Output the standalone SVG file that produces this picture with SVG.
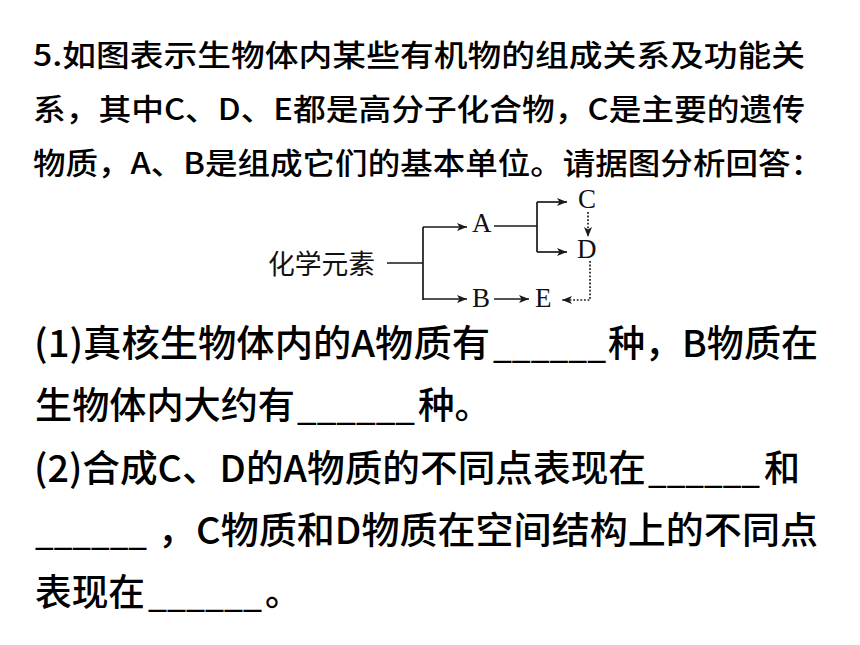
<svg xmlns="http://www.w3.org/2000/svg" width="860" height="645" viewBox="0 0 860 645">
<style>
.q{font-family:"Noto Sans CJK SC","Noto Sans",sans-serif;fill:#000;font-weight:500;}
.t{font-size:30px;}
.b{font-size:37px;}
.u{font-size:33px;}
.lbl{font-family:"Noto Sans CJK SC",sans-serif;font-size:27px;fill:#111;}
.let{font-family:"Liberation Serif","Times New Roman",serif;font-size:27px;fill:#111;}
.ln{fill:none;stroke:#1a1a1a;stroke-width:1.7;}
.dot{fill:none;stroke:#1a1a1a;stroke-width:1.7;stroke-dasharray:1.8 1.8;}
</style>
<defs>
<marker id="ah" viewBox="0 0 10 8" refX="10" refY="4" markerWidth="10" markerHeight="8" markerUnits="userSpaceOnUse" orient="auto">
<path d="M0,0 L10,4 L0,8 L2.5,4 z" fill="#1a1a1a"/>
</marker>
</defs>
<rect width="860" height="645" fill="#fff"/>
<g id="question">
<text class="q t" x="33" y="66" textLength="772" lengthAdjust="spacingAndGlyphs">5.如图表示生物体内某些有机物的组成关系及功能关</text>
<text class="q t" x="33" y="120" textLength="772" lengthAdjust="spacingAndGlyphs">系，其中C、D、E都是高分子化合物，C是主要的遗传</text>
<text class="q t" x="33" y="174" textLength="790" lengthAdjust="spacingAndGlyphs">物质，A、B是组成它们的基本单位。请据图分析回答：</text>
</g>
<g id="nodes">
<g id="n-elements"><text class="lbl" x="268" y="274" textLength="107" lengthAdjust="spacingAndGlyphs">化学元素</text></g>
<g id="n-A"><text class="let" x="472" y="232">A</text></g>
<g id="n-B"><text class="let" x="472" y="307">B</text></g>
<g id="n-C"><text class="let" x="578" y="208">C</text></g>
<g id="n-D"><text class="let" x="577" y="258">D</text></g>
<g id="n-E"><text class="let" x="535" y="307">E</text></g>
</g>
<g id="connectors">
<path class="ln" d="M387,263 H423 M423,227 V300"/>
<path class="ln" d="M423,227 H467" marker-end="url(#ah)"/>
<path class="ln" d="M423,299 H467" marker-end="url(#ah)"/>
<path class="ln" d="M494,226 H537 M537,202 V252"/>
<path class="ln" d="M537,202 H567" marker-end="url(#ah)"/>
<path class="ln" d="M537,252 H567" marker-end="url(#ah)"/>
<path class="ln" d="M494,299 H529" marker-end="url(#ah)"/>
<path class="dot" d="M588,212 V237" marker-end="url(#ah)"/>
<path class="dot" d="M590,261 V300 H562" marker-end="url(#ah)"/>
</g>
<g id="answers">
<text class="q b" x="34" y="357" textLength="456" lengthAdjust="spacingAndGlyphs">(1)真核生物体内的A物质有</text>
<text class="q u" x="493" y="358" textLength="113" lengthAdjust="spacingAndGlyphs">______</text>
<text class="q b" x="608" y="357" textLength="210" lengthAdjust="spacingAndGlyphs">种，B物质在</text>
<text class="q b" x="35" y="419" textLength="260" lengthAdjust="spacingAndGlyphs">生物体内大约有</text>
<text class="q u" x="297" y="420" textLength="118" lengthAdjust="spacingAndGlyphs">______</text>
<text class="q b" x="418" y="419" textLength="73" lengthAdjust="spacingAndGlyphs">种。</text>
<text class="q b" x="34" y="482" textLength="612" lengthAdjust="spacingAndGlyphs">(2)合成C、D的A物质的不同点表现在</text>
<text class="q u" x="648" y="483" textLength="112" lengthAdjust="spacingAndGlyphs">______</text>
<text class="q b" x="764" y="482" textLength="36" lengthAdjust="spacingAndGlyphs">和</text>
<text class="q u" x="35" y="545" textLength="112" lengthAdjust="spacingAndGlyphs">______</text>
<text class="q b" x="158" y="544" textLength="660" lengthAdjust="spacingAndGlyphs">，C物质和D物质在空间结构上的不同点</text>
<text class="q b" x="35" y="606" textLength="110" lengthAdjust="spacingAndGlyphs">表现在</text>
<text class="q u" x="148" y="607" textLength="114" lengthAdjust="spacingAndGlyphs">______</text>
<text class="q b" x="265" y="606" textLength="36" lengthAdjust="spacingAndGlyphs">。</text>
</g>
</svg>
